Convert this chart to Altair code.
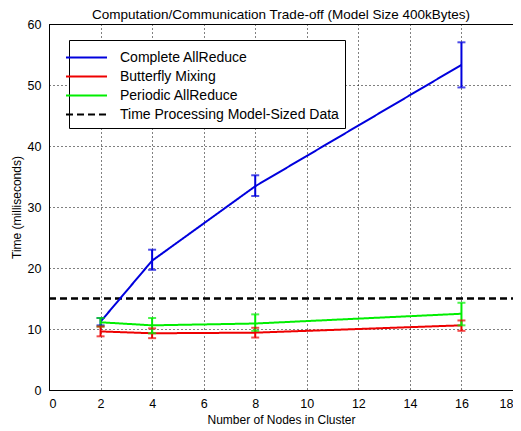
import altair as alt
import pandas as pd

nodes = [2, 4, 8, 16]
series = ["Complete AllReduce", "Butterfly Mixing", "Periodic AllReduce", "Time Processing Model-Sized Data"]
colors = ["#0000dd", "#ee0000", "#00ee00", "#000000"]

complete_mean = [11.2, 21.2, 33.4, 53.3]
complete_lo = [10.6, 19.7, 31.8, 49.6]
complete_hi = [11.8, 23.0, 35.2, 57.0]

butterfly_mean = [9.6, 9.3, 9.4, 10.6]
butterfly_lo = [8.8, 8.5, 8.6, 9.7]
butterfly_hi = [10.4, 10.1, 10.2, 11.4]

periodic_mean = [11.1, 10.6, 10.9, 12.5]
periodic_lo = [10.4, 9.3, 9.7, 10.6]
periodic_hi = [11.8, 11.8, 12.4, 14.3]

threshold_x = [0, 18]
threshold_y = 15

rows = []
for name, m, lo, hi in [
    (series[0], complete_mean, complete_lo, complete_hi),
    (series[1], butterfly_mean, butterfly_lo, butterfly_hi),
    (series[2], periodic_mean, periodic_lo, periodic_hi),
]:
    for n, a, b, c in zip(nodes, m, lo, hi):
        rows.append({"nodes": n, "time": a, "lo": b, "hi": c, "series": name})
df = pd.DataFrame(rows)
thr = pd.DataFrame({"nodes": threshold_x, "time": [threshold_y] * 2, "series": [series[3]] * 2})

xs = alt.Scale(domain=[0, 18], nice=False)
ys = alt.Scale(domain=[0, 60], nice=False)

legend = alt.Legend(title=None, orient="none", legendX=20, legendY=16,
                    symbolType="M-2,0L2,0", symbolSize=420, symbolStrokeWidth=2,
                    symbolFillColor="transparent",
                    labelFontSize=14, labelFont="Liberation Sans", labelColor="black",
                    labelOffset=22,
                    strokeColor="black", fillColor="white", padding=6,
                    rowPadding=0, labelLimit=400, offset=0)
cscale = alt.Scale(domain=series, range=colors)
color = alt.Color("series:N", scale=cscale, legend=legend)
dash = alt.StrokeDash("series:N", scale=alt.Scale(domain=series, range=[[1, 0], [1, 0], [1, 0], [7, 4]]),
                      legend=legend)

xax = alt.X("nodes:Q", scale=xs, title="Number of Nodes in Cluster",
            axis=alt.Axis(values=list(range(0, 19, 2)), format="d"))
yax = alt.Y("time:Q", scale=ys, title="Time (milliseconds)",
            axis=alt.Axis(values=list(range(0, 61, 10))))

lines = alt.Chart(df).mark_line(strokeWidth=2).encode(x=xax, y=yax, color=color, strokeDash=dash)
thr_line = alt.Chart(thr).mark_line(strokeWidth=2.5).encode(x=xax, y=yax, color=color, strokeDash=dash)
err = alt.Chart(df).mark_rule(strokeWidth=2).encode(
    x="nodes:Q", y="lo:Q", y2="hi:Q", color=alt.Color("series:N", scale=cscale, legend=None))
cap_lo = alt.Chart(df).mark_tick(orient="horizontal", size=8, thickness=2).encode(
    x="nodes:Q", y="lo:Q", color=alt.Color("series:N", scale=cscale, legend=None))
cap_hi = alt.Chart(df).mark_tick(orient="horizontal", size=8, thickness=2).encode(
    x="nodes:Q", y="hi:Q", color=alt.Color("series:N", scale=cscale, legend=None))

chart = alt.layer(thr_line, lines, err, cap_lo, cap_hi).properties(
    width=464, height=366,
    title=alt.Title("Computation/Communication Trade-off (Model Size 400kBytes)",
                    fontSize=13.5, font="Liberation Sans", fontWeight="normal", color="black",
                    offset=-3),
    autosize=alt.AutoSizeParams(type="none"),
    padding={"left": 41, "top": 16, "right": 0, "bottom": 38},
).configure_view(stroke="black", strokeWidth=1).configure_axis(
    gridColor="black", gridDash=[1, 3], gridOpacity=1, gridWidth=1,
    domainColor="black", ticks=False,
    labelFont="Liberation Sans", labelFontSize=12.5, labelColor="black",
    titleFont="Liberation Sans", titleFontSize=12, titleFontWeight="normal", titleColor="black",
).configure_axisX(titlePadding=5, labelPadding=7).configure_axisY(titlePadding=4, labelPadding=8)

chart.save("out.html", embed_options={"renderer": "svg", "actions": False})
